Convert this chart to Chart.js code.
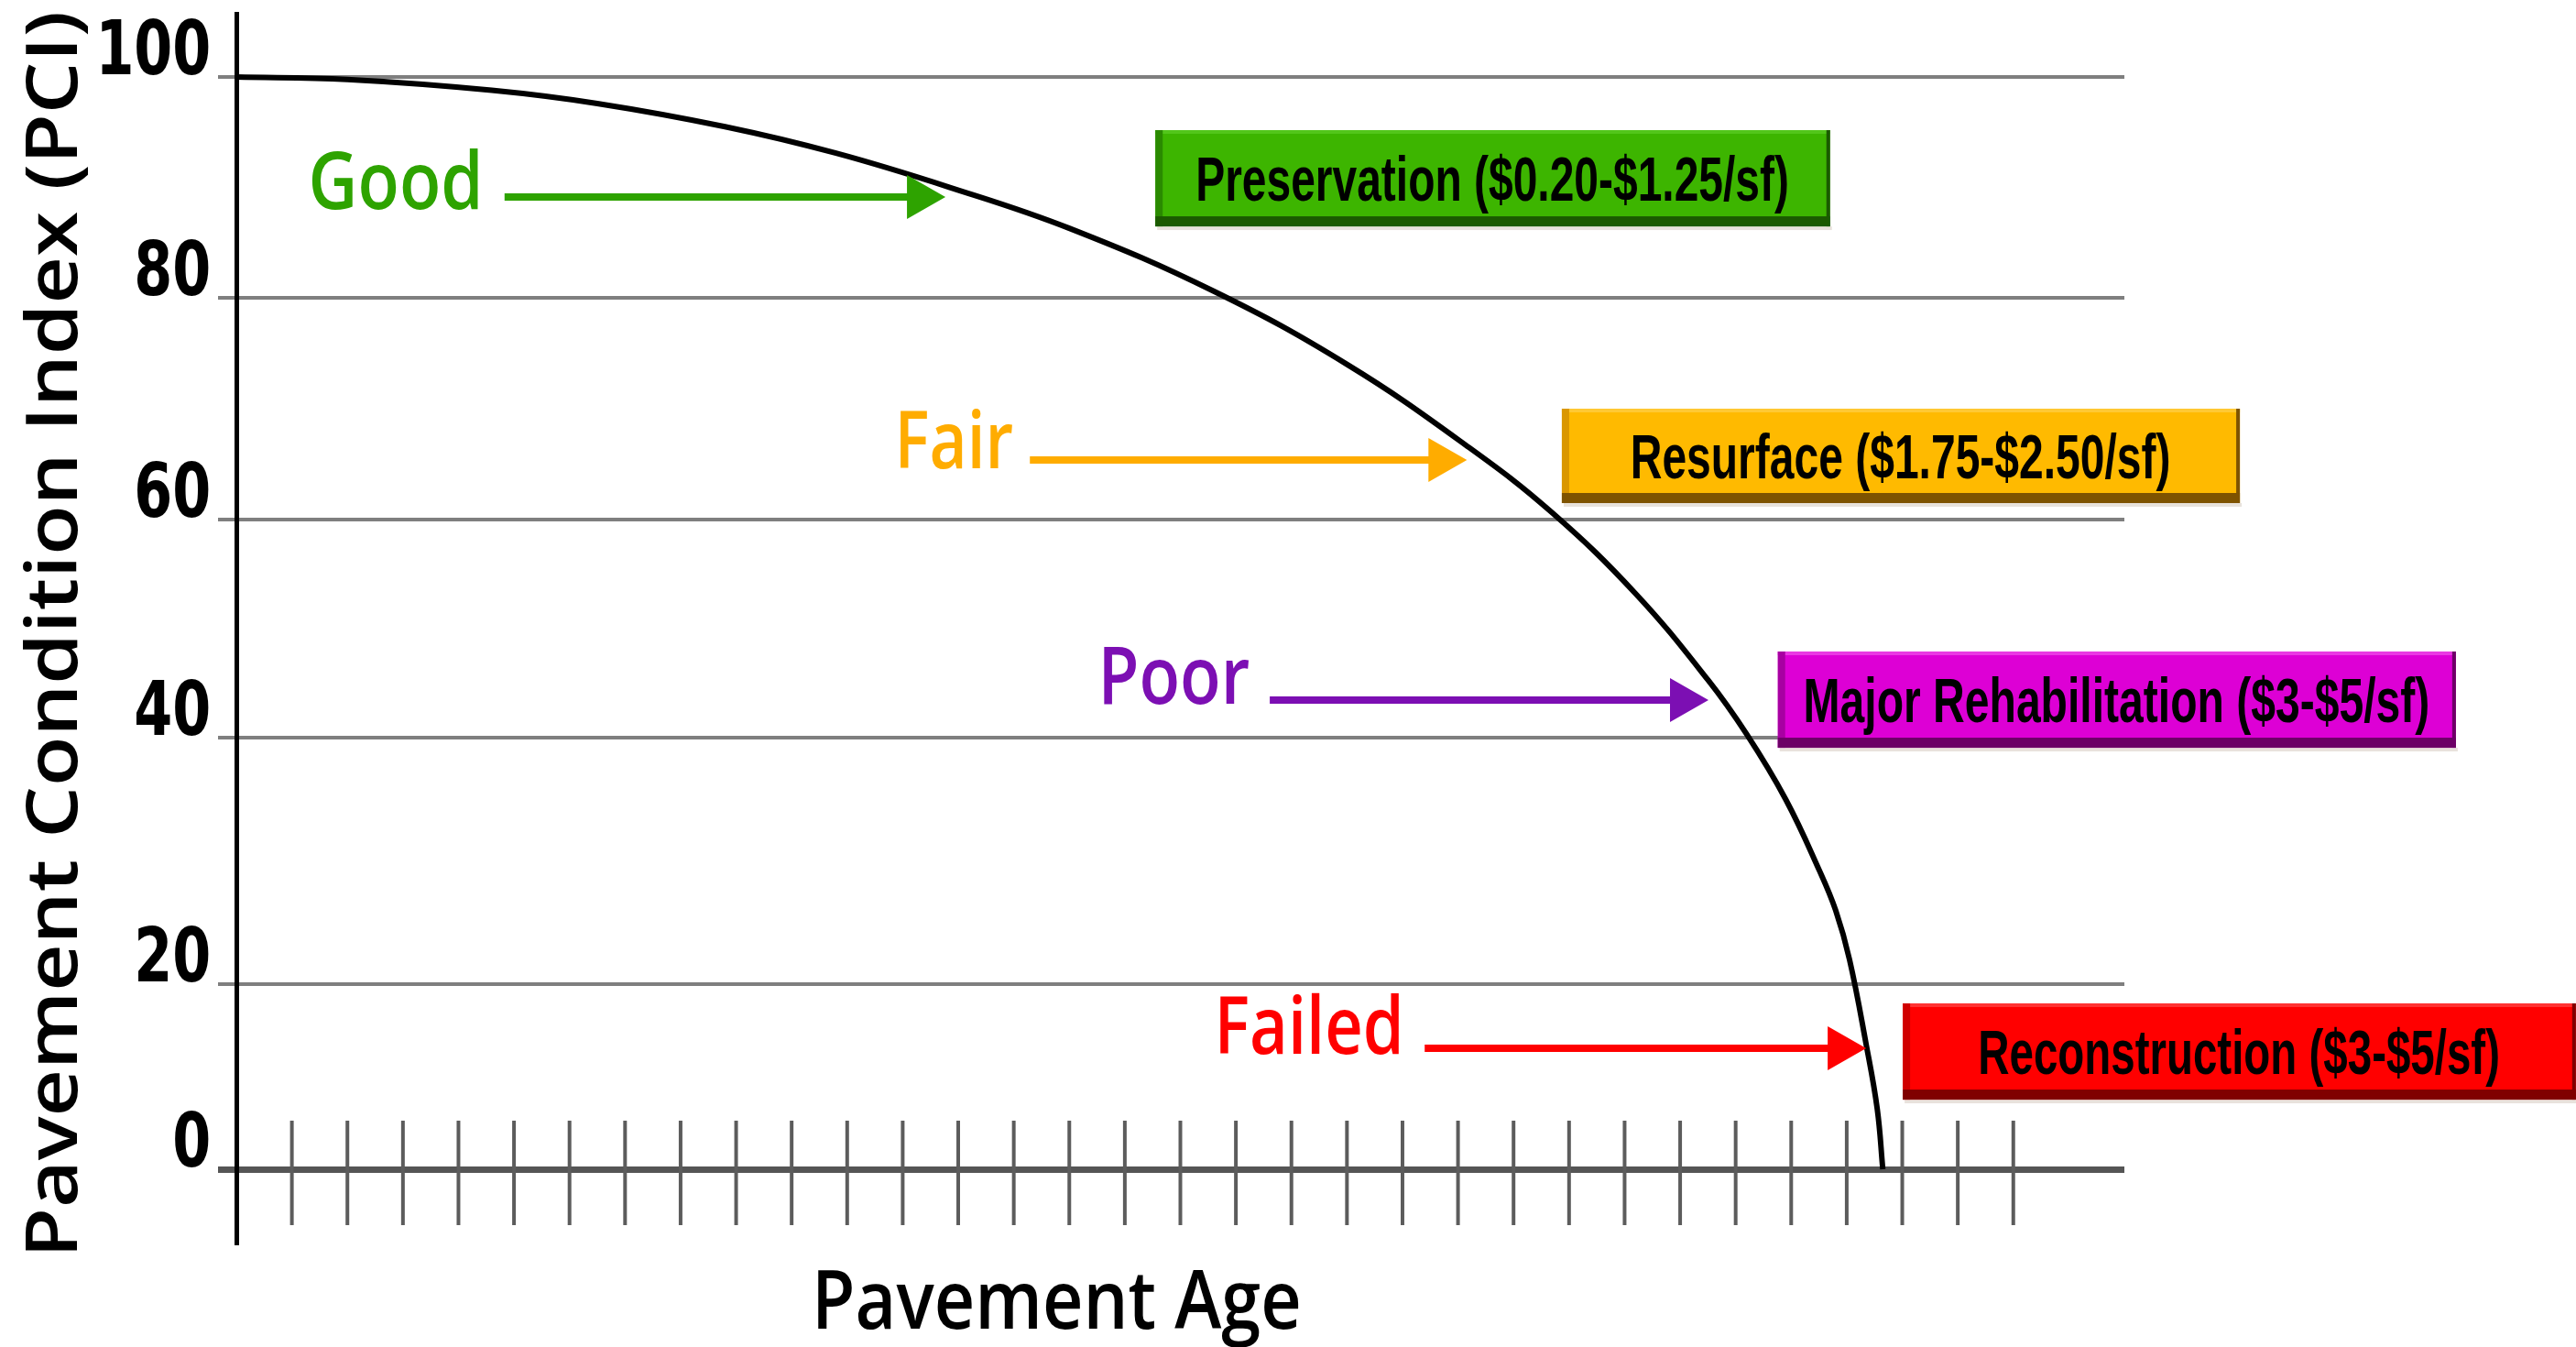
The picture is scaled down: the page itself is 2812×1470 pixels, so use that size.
<!DOCTYPE html>
<html lang="en">
<head>
<meta charset="UTF-8">
<title>Pavement Condition Index vs Pavement Age</title>
<script src="https://cdn.jsdelivr.net/npm/chart.js"></script>
<style>
  body { margin: 0; background: #fff; }
  canvas { display: block; }
</style>
</head>
<body>
<canvas id="pci-chart" width="2812" height="1470"></canvas>
<script>
// deterioration curve (age in tick units, PCI 0-100)
const ageValues = [0, 2, 4.6, 6.5, 8.8, 10.8, 12.85, 15, 17.6, 20, 22.2, 23.7, 25.2, 26.5, 27.2, 27.9, 28.5, 28.8, 29.05, 29.35, 29.55, 29.65];
const pciValues = [100, 99.78, 98.8, 97.6, 95.5, 93.1, 90.0, 86.3, 80.6, 74.0, 66.5, 60.6, 53.2, 45.3, 40.3, 35.0, 29.3, 26.0, 22.0, 13.5, 6.5, 0];

const yTickValues = [0, 20, 40, 60, 80, 100];
const ageTickValues = [1, 2, 3, 4, 5, 6, 7, 8, 9, 10, 11, 12, 13, 14, 15, 16, 17, 18, 19, 20, 21, 22, 23, 24, 25, 26, 27, 28, 29, 30, 31, 32];

const stageLabels = ['Good', 'Fair', 'Poor', 'Failed'];
const treatmentLabels = ['Preservation ($0.20-$1.25/sf)', 'Resurface ($1.75-$2.50/sf)', 'Major Rehabilitation ($3-$5/sf)', 'Reconstruction ($3-$5/sf)'];

// where the notes sit, in chart units (x = age, y = PCI); w = text width in px
const labelSpots = [
    { x: 2.86, y: 88.05, w: 181 },
    { x: 12.97, y: 64.63, w: 122 },
    { x: 16.93, y: 43.11, w: 158 },
    { x: 19.33, y: 12.48, w: 195 }
];
const arrowSpots = [
    { y: 89.13, x0: 4.83, x1: 12.77 },
    { y: 65.37, x0: 14.29, x1: 22.16 },
    { y: 43.45, x0: 18.61, x1: 26.51 },
    { y: 13.07, x0: 21.40, x1: 29.35 }
];
const boxSpots = [
    { x0: 16.55, x1: 28.70, top: 95.19, bottom: 86.47, textW: 643 },
    { x0: 23.87, x1: 36.08, top: 70.0, bottom: 61.49, textW: 585 },
    { x0: 27.76, x1: 39.97, top: 47.90, bottom: 39.18, textW: 679 },
    { x0: 30.01, x1: 42.13, top: 17.92, bottom: 7.52, textW: 565 }
];

const stageColors = ['#2EA300', '#FFAC00', '#7C0FB3', '#FF0000'];
const boxStyles = [
    { fill: '#3DB500', top: '#52C61A', side: '#2A8A00', base: '#1B5A00' },
    { fill: '#FFBA00', top: '#FFC934', side: '#DA9700', base: '#7E5300' },
    { fill: '#DD00D5', top: '#E93AE3', side: '#A800A2', base: '#6C0066' },
    { fill: '#FF0000', top: '#FF3333', side: '#D00000', base: '#800000' }
];

const labelFont = { family: "'Open Sans', sans-serif", weight: '600' };
const boxFont = { family: "'Liberation Sans', Arial, sans-serif", weight: 'bold' };
const tickFont = { family: "'DejaVu Sans', sans-serif", weight: 'bold' };

// the picture's value axis is not evenly spaced: pixel gaps between 0-20-40-60-80-100
class UnevenScale extends Chart.LinearScale {
    static id = 'uneven';
    static defaults = { ticks: { callback: Chart.Ticks.formatters.numeric } };

    _pos(v) {
        const k = this.options.knots, b = this.options.bands;
        if (v <= k[0]) return (v - k[0]) * b[0] / (k[1] - k[0]);
        let acc = 0;
        for (let i = 0; i < b.length; i++) {
            if (v <= k[i + 1] || i === b.length - 1) return acc + (v - k[i]) * b[i] / (k[i + 1] - k[i]);
            acc += b[i];
        }
    }
    _val(p) {
        const k = this.options.knots, b = this.options.bands;
        if (p <= 0) return k[0] + p * (k[1] - k[0]) / b[0];
        let acc = 0;
        for (let i = 0; i < b.length; i++) {
            if (p <= acc + b[i] || i === b.length - 1) return k[i] + (p - acc) * (k[i + 1] - k[i]) / b[i];
            acc += b[i];
        }
    }
    getPixelForValue(value) {
        if (value === null || value === undefined) return NaN;
        const a = this._pos(this.min), z = this._pos(this.max);
        return this.getPixelForDecimal((this._pos(value) - a) / (z - a));
    }
    getValueForPixel(pixel) {
        const a = this._pos(this.min), z = this._pos(this.max);
        return this._val(a + this.getDecimalForPixel(pixel) * (z - a));
    }
}
Chart.register(UnevenScale);

function setFont(ctx, font, capPx) {
    ctx.font = `${font.weight} 100px ${font.family}`;
    const cap = ctx.measureText('H').actualBoundingBoxAscent;
    ctx.font = `${font.weight} ${100 * capPx / cap}px ${font.family}`;
}

// text with a given cap height; squeezed to a width (o.width) or by a factor (o.sx)
function drawText(ctx, text, x, y, o) {
    ctx.save();
    setFont(ctx, o.font, o.cap);
    const m = ctx.measureText(text);
    const L = m.actualBoundingBoxLeft, R = m.actualBoundingBoxRight;
    const sx = o.width ? o.width / (L + R) : o.sx;
    ctx.translate(x, y);
    if (o.angle) ctx.rotate(o.angle);
    ctx.scale(sx, 1);
    ctx.fillStyle = o.color;
    ctx.textAlign = 'left';
    ctx.textBaseline = 'alphabetic';
    ctx.fillText(text, o.align === 'right' ? -R : -(R - L) / 2, 0);
    ctx.restore();
}

function drawArrow(ctx, x0, x1, y, color) {
    const headLen = 42, headH = 48;
    ctx.save();
    ctx.strokeStyle = color;
    ctx.fillStyle = color;
    ctx.lineWidth = 8;
    ctx.beginPath();
    ctx.moveTo(x0, y);
    ctx.lineTo(x1 - headLen + 2, y);
    ctx.stroke();
    ctx.beginPath();
    ctx.moveTo(x1, y);
    ctx.lineTo(x1 - headLen, y - headH / 2);
    ctx.lineTo(x1 - headLen, y + headH / 2);
    ctx.closePath();
    ctx.fill();
    ctx.restore();
}

function drawBox(ctx, left, top, w, h, st) {
    ctx.save();
    ctx.fillStyle = '#e8e2dc';
    ctx.fillRect(left + 2, top + h, w, 4);
    ctx.fillStyle = st.fill;
    ctx.fillRect(left, top, w, h);
    ctx.fillStyle = st.top;
    ctx.fillRect(left, top, w, 4);
    ctx.fillStyle = st.side;
    ctx.fillRect(left, top, 8, h);
    ctx.fillStyle = st.base;
    ctx.fillRect(left + w - 4, top, 4, h);
    ctx.fillRect(left, top + h - 11, w, 11);
    ctx.restore();
}

const pciNotes = {
    id: 'pciNotes',
    beforeDatasetsDraw(chart) {
        // short ticks crossing the age axis
        const { ctx, scales: { x, y } } = chart;
        const y0 = y.getPixelForValue(0);
        ctx.save();
        ctx.strokeStyle = '#5c5c5c';
        ctx.lineWidth = 4;
        ageTickValues.forEach(v => {
            const px = x.getPixelForValue(v);
            ctx.beginPath();
            ctx.moveTo(px, y0 - 53);
            ctx.lineTo(px, y0 + 61);
            ctx.stroke();
        });
        ctx.restore();
    },
    afterDraw(chart) {
        const { ctx, scales: { x, y } } = chart;

        // value labels sit just above their grid lines
        ctx.save();
        setFont(ctx, tickFont, 60);
        const m = ctx.measureText('100');
        const tickSx = 117 / (m.actualBoundingBoxLeft + m.actualBoundingBoxRight);
        ctx.restore();
        y.ticks.forEach(t => {
            const label = t.label !== undefined ? String(t.label) : String(t.value);
            drawText(ctx, label, y.right - 30, y.getPixelForValue(t.value) - 3,
                { cap: 60, sx: tickSx, font: tickFont, color: '#000', align: 'right' });
        });

        stageLabels.forEach((label, i) => {
            const a = arrowSpots[i];
            drawArrow(ctx, x.getPixelForValue(a.x0), x.getPixelForValue(a.x1), y.getPixelForValue(a.y), stageColors[i]);
            const l = labelSpots[i];
            drawText(ctx, label, x.getPixelForValue(l.x), y.getPixelForValue(l.y),
                { cap: 62, width: l.w, font: labelFont, color: stageColors[i] });
        });
        treatmentLabels.forEach((label, i) => {
            const b = boxSpots[i];
            const left = x.getPixelForValue(b.x0), right = x.getPixelForValue(b.x1);
            const top = y.getPixelForValue(b.top), bottom = y.getPixelForValue(b.bottom);
            drawBox(ctx, left, top, right - left, bottom - top, boxStyles[i]);
            drawText(ctx, label, (left + right) / 2, (top + bottom) / 2 + 24,
                { cap: 48, width: b.textW, font: boxFont, color: '#000' });
        });

        // axis titles
        drawText(ctx, 'Pavement Age', 1155, 1450, { cap: 64, width: 524, font: labelFont, color: '#000' });
        drawText(ctx, 'Pavement Condition Index (PCI)', 84, 690,
            { cap: 56, width: 1350, font: labelFont, color: '#000', angle: -Math.PI / 2 });
    }
};

new Chart(document.getElementById('pci-chart'), {
    type: 'scatter',
    data: {
        datasets: [{
            data: ageValues.map((a, i) => ({ x: a, y: pciValues[i] })),
            showLine: true,
            borderColor: '#000',
            borderWidth: 6,
            pointRadius: 0,
            tension: 0.4,
            fill: false
        }]
    },
    options: {
        responsive: false,
        animation: false,
        layout: { padding: { left: 0, right: 493, top: 15, bottom: 115 } },
        plugins: { legend: { display: false }, tooltip: { enabled: false } },
        scales: {
            x: { type: 'linear', min: 0, max: 34, display: false },
            y: {
                type: 'uneven',
                min: -7.82,
                max: 105.73,
                knots: yTickValues,
                bands: [202, 269, 238, 242, 241],
                afterBuildTicks: s => { s.ticks = yTickValues.map(v => ({ value: v })); },
                afterFit: s => { s.width = 258; s.paddingTop = 0; s.paddingBottom = 0; },
                grid: {
                    color: c => (c.tick && c.tick.value === 0 ? '#555' : '#7f7f7f'),
                    lineWidth: c => (c.tick && c.tick.value === 0 ? 7 : 4),
                    tickLength: 20
                },
                border: { color: '#000', width: 5 },
                ticks: { display: false }
            }
        }
    },
    plugins: [pciNotes]
});
</script>
</body>
</html>
